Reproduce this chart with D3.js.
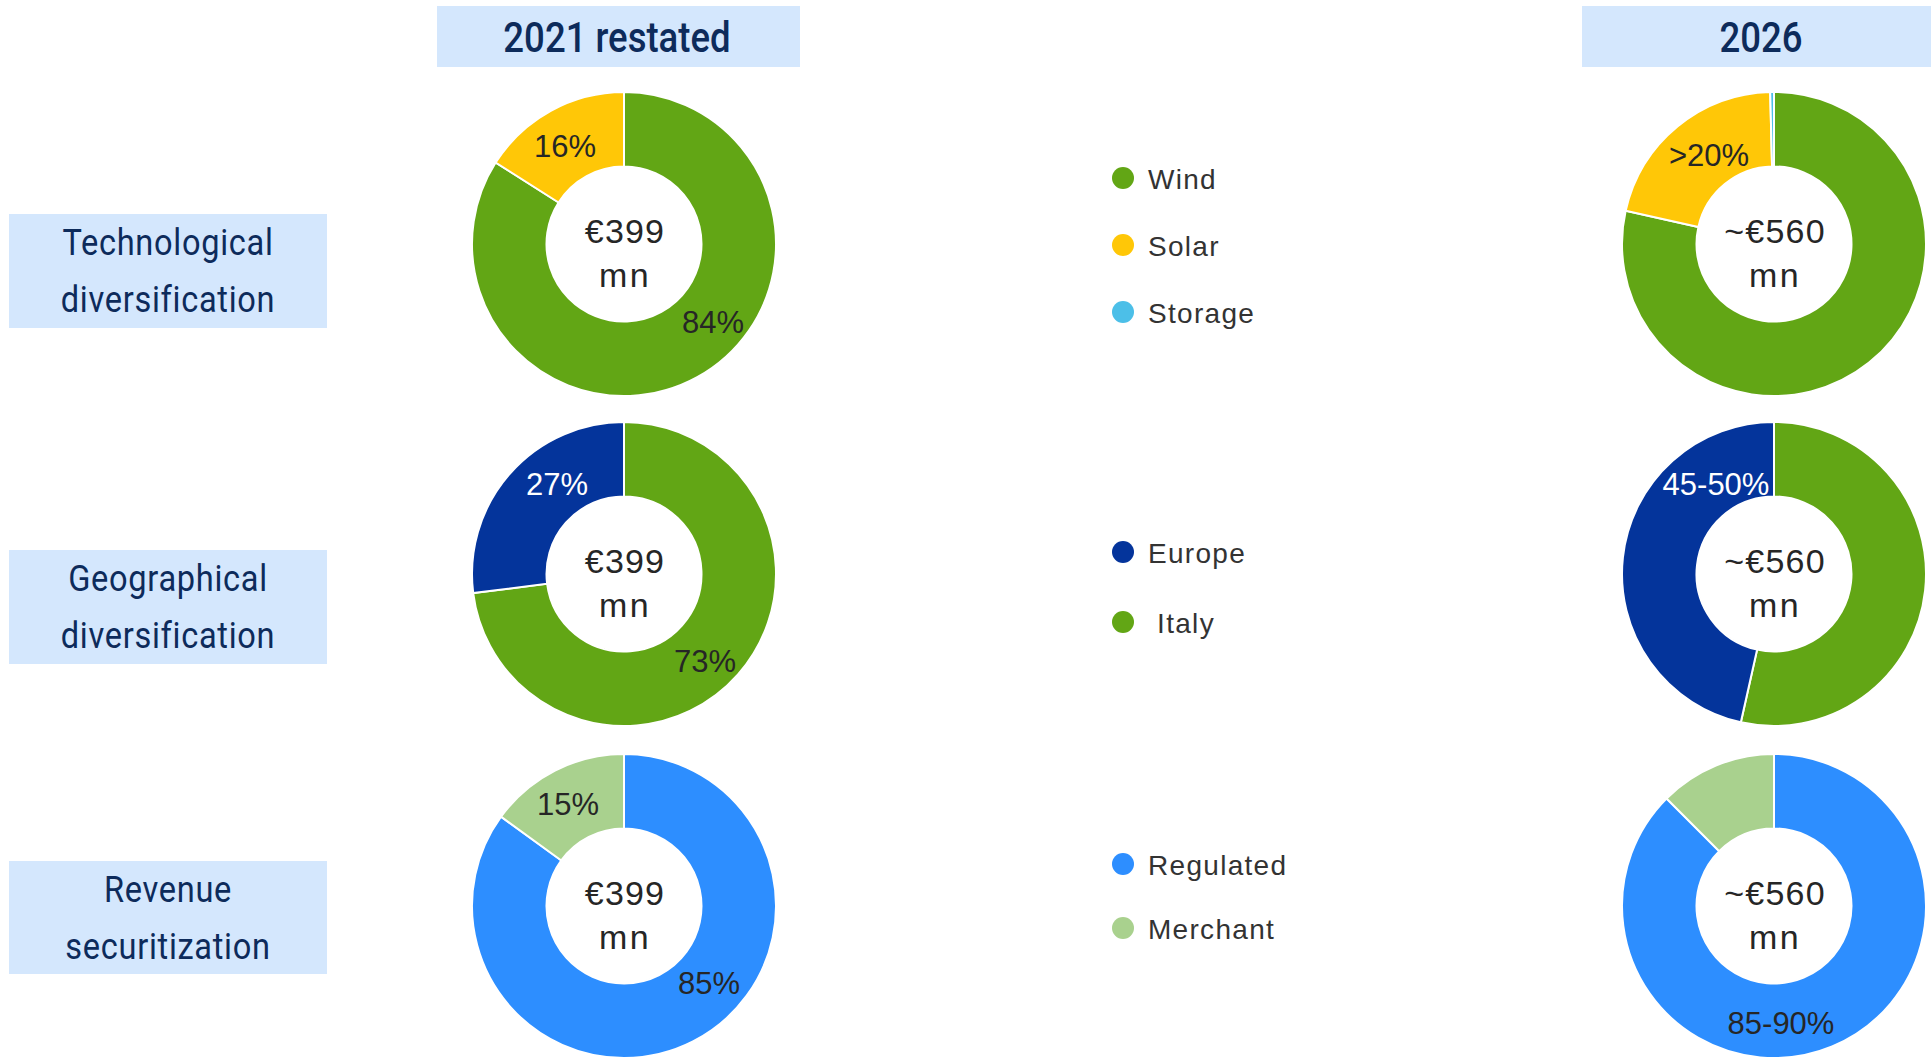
<!DOCTYPE html>
<html>
<head>
<meta charset="utf-8">
<script src="https://cdn.jsdelivr.net/npm/d3@7"></script>
<style>
  html, body { margin: 0; padding: 0; background: #ffffff; }
  svg { display: block; }
</style>
</head>
<body>
<div id="chart"></div>
<script>
// ---------------- DATA ----------------
const periods = ["2021 restated", "2026"];
const centerLine1 = ["€399", "~€560"];
const centerLine2 = ["mn", "mn"];

const rowTitles = [
  ["Technological", "diversification"],
  ["Geographical", "diversification"],
  ["Revenue", "securitization"]
];

// Technological diversification
const techCategories = ["Wind", "Solar", "Storage"];
const tech2021 = [84, 16, 0];
const tech2026 = [78.5, 21.1, 0.4];
const techLabels2021 = ["84%", "16%", ""];
const techLabels2026 = ["", ">20%", ""];

// Geographical diversification
const geoCategories = ["Italy", "Europe"];
const geo2021 = [73, 27];
const geo2026 = [53.5, 46.5];
const geoLabels2021 = ["73%", "27%"];
const geoLabels2026 = ["", "45-50%"];
const geoLegendOrder = ["Europe", " Italy"];

// Revenue securitization
const revCategories = ["Regulated", "Merchant"];
const rev2021 = [85, 15];
const rev2026 = [87.5, 12.5];
const revLabels2021 = ["85%", "15%"];
const revLabels2026 = ["85-90%", ""];

// ---------------- STYLE / LAYOUT ----------------
const colors = {
  "Wind": "#62a615", "Solar": "#ffc707", "Storage": "#4cbfe8",
  "Italy": "#62a615", "Europe": "#04349b",
  "Regulated": "#2d8eff", "Merchant": "#a9d18e"
};
const labelColor = { "Europe": "#ffffff" };

const W = 1931, H = 1058;
const svg = d3.select("#chart").append("svg").attr("width", W).attr("height", H);

const navy = "#0d2b5b";
const boxFill = "#d4e7fd";
const condensed = "Roboto, 'Liberation Sans', sans-serif";
const sans = "'Liberation Sans', Arial, sans-serif";

// column / row geometry
const colX = d3.scaleOrdinal().domain(periods).range([624, 1774]);
const rowY = d3.scaleOrdinal().domain([0, 1, 2]).range([244, 574, 906]);
const outerR = 152, innerR = 77.5;

// header boxes
const headerBoxes = [
  { x0: 437, x1: 800, tx: 617 },
  { x0: 1582, x1: 1931, tx: 1761 }
];
periods.forEach((p, i) => {
  const b = headerBoxes[i];
  svg.append("rect").attr("x", b.x0).attr("y", 6).attr("width", b.x1 - b.x0).attr("height", 61).attr("fill", boxFill);
  svg.append("text")
    .attr("transform", `translate(${b.tx},52) scale(0.85,1)`)
    .attr("text-anchor", "middle")
    .attr("font-family", condensed).attr("font-size", 43).attr("font-weight", 500)
    .attr("fill", navy).text(p);
});

// row label boxes
const rowBoxes = [[214, 328], [550, 664], [861, 974]];
rowTitles.forEach((lines, i) => {
  const [y0, y1] = rowBoxes[i];
  const cy = (y0 + y1) / 2;
  svg.append("rect").attr("x", 9).attr("y", y0).attr("width", 318).attr("height", y1 - y0).attr("fill", boxFill);
  lines.forEach((t, j) => {
    svg.append("text")
      .attr("transform", `translate(168,${cy - 16 + j * 57}) scale(0.88,1)`)
      .attr("text-anchor", "middle")
      .attr("font-family", condensed).attr("font-size", 37).attr("letter-spacing", 0.8)
      .attr("fill", navy).text(t);
  });
});

// donuts
const pie = d3.pie().sort(null).value(d => d.v).startAngle(0).endAngle(2 * Math.PI);
const arc = d3.arc().innerRadius(innerR).outerRadius(outerR);

// label offsets (layout only) relative to donut centre, per donut, per slice
const labelOffsets = {
  "0-0": [[89, 78], [-59, -98], [0, 0]],
  "0-1": [[0, 0], [-65, -89], [0, 0]],
  "1-0": [[81, 87], [-67, -90]],
  "1-1": [[0, 0], [-58, -90]],
  "2-0": [[85, 77], [-56, -102]],
  "2-1": [[7, 117], [0, 0]]
};

const donuts = [
  { row: 0, col: 0, cats: techCategories, vals: tech2021, labels: techLabels2021 },
  { row: 0, col: 1, cats: techCategories, vals: tech2026, labels: techLabels2026 },
  { row: 1, col: 0, cats: geoCategories, vals: geo2021, labels: geoLabels2021 },
  { row: 1, col: 1, cats: geoCategories, vals: geo2026, labels: geoLabels2026 },
  { row: 2, col: 0, cats: revCategories, vals: rev2021, labels: revLabels2021 },
  { row: 2, col: 1, cats: revCategories, vals: rev2026, labels: revLabels2026 }
];

donuts.forEach(dn => {
  const cx = colX(periods[dn.col]);
  const cy = rowY(dn.row);
  const g = svg.append("g").attr("transform", `translate(${cx},${cy})`);
  const data = dn.cats.map((c, i) => ({ c, v: dn.vals[i], label: dn.labels[i], i }));
  const arcs = pie(data);
  g.selectAll("path").data(arcs).join("path")
    .attr("d", arc)
    .attr("fill", d => colors[d.data.c])
    .attr("stroke", "#ffffff").attr("stroke-width", 2);
  const offs = labelOffsets[`${dn.row}-${dn.col}`];
  g.selectAll("text.pct").data(arcs.filter(d => d.data.label)).join("text")
    .attr("class", "pct")
    .attr("x", d => offs[d.data.i][0])
    .attr("y", d => offs[d.data.i][1] + 11)
    .attr("text-anchor", "middle")
    .attr("font-family", sans).attr("font-size", 31)
    .attr("fill", d => labelColor[d.data.c] || "#262626")
    .text(d => d.data.label);
  g.append("text").attr("x", 1).attr("y", -1).attr("text-anchor", "middle")
    .attr("font-family", sans).attr("font-size", 34).attr("letter-spacing", 1.2)
    .attr("fill", "#262626").text(centerLine1[dn.col]);
  g.append("text").attr("x", 1).attr("y", 43).attr("text-anchor", "middle")
    .attr("font-family", sans).attr("font-size", 34).attr("letter-spacing", 2.5)
    .attr("fill", "#262626").text(centerLine2[dn.col]);
});

// legends
const legends = [
  { items: techCategories, keys: techCategories, ys: [178, 245, 312] },
  { items: geoLegendOrder, keys: ["Europe", "Italy"], ys: [552, 622] },
  { items: revCategories, keys: revCategories, ys: [864, 928] }
];
legends.forEach(lg => {
  lg.items.forEach((t, i) => {
    const y = lg.ys[i];
    svg.append("circle").attr("cx", 1123).attr("cy", y).attr("r", 11).attr("fill", colors[lg.keys[i]]);
    svg.append("text").attr("x", 1148).attr("y", y + 11)
      .attr("font-family", sans).attr("font-size", 28).attr("letter-spacing", 1.3)
      .attr("fill", "#333333").style("white-space", "pre").text(t);
  });
});
</script>
</body>
</html>
